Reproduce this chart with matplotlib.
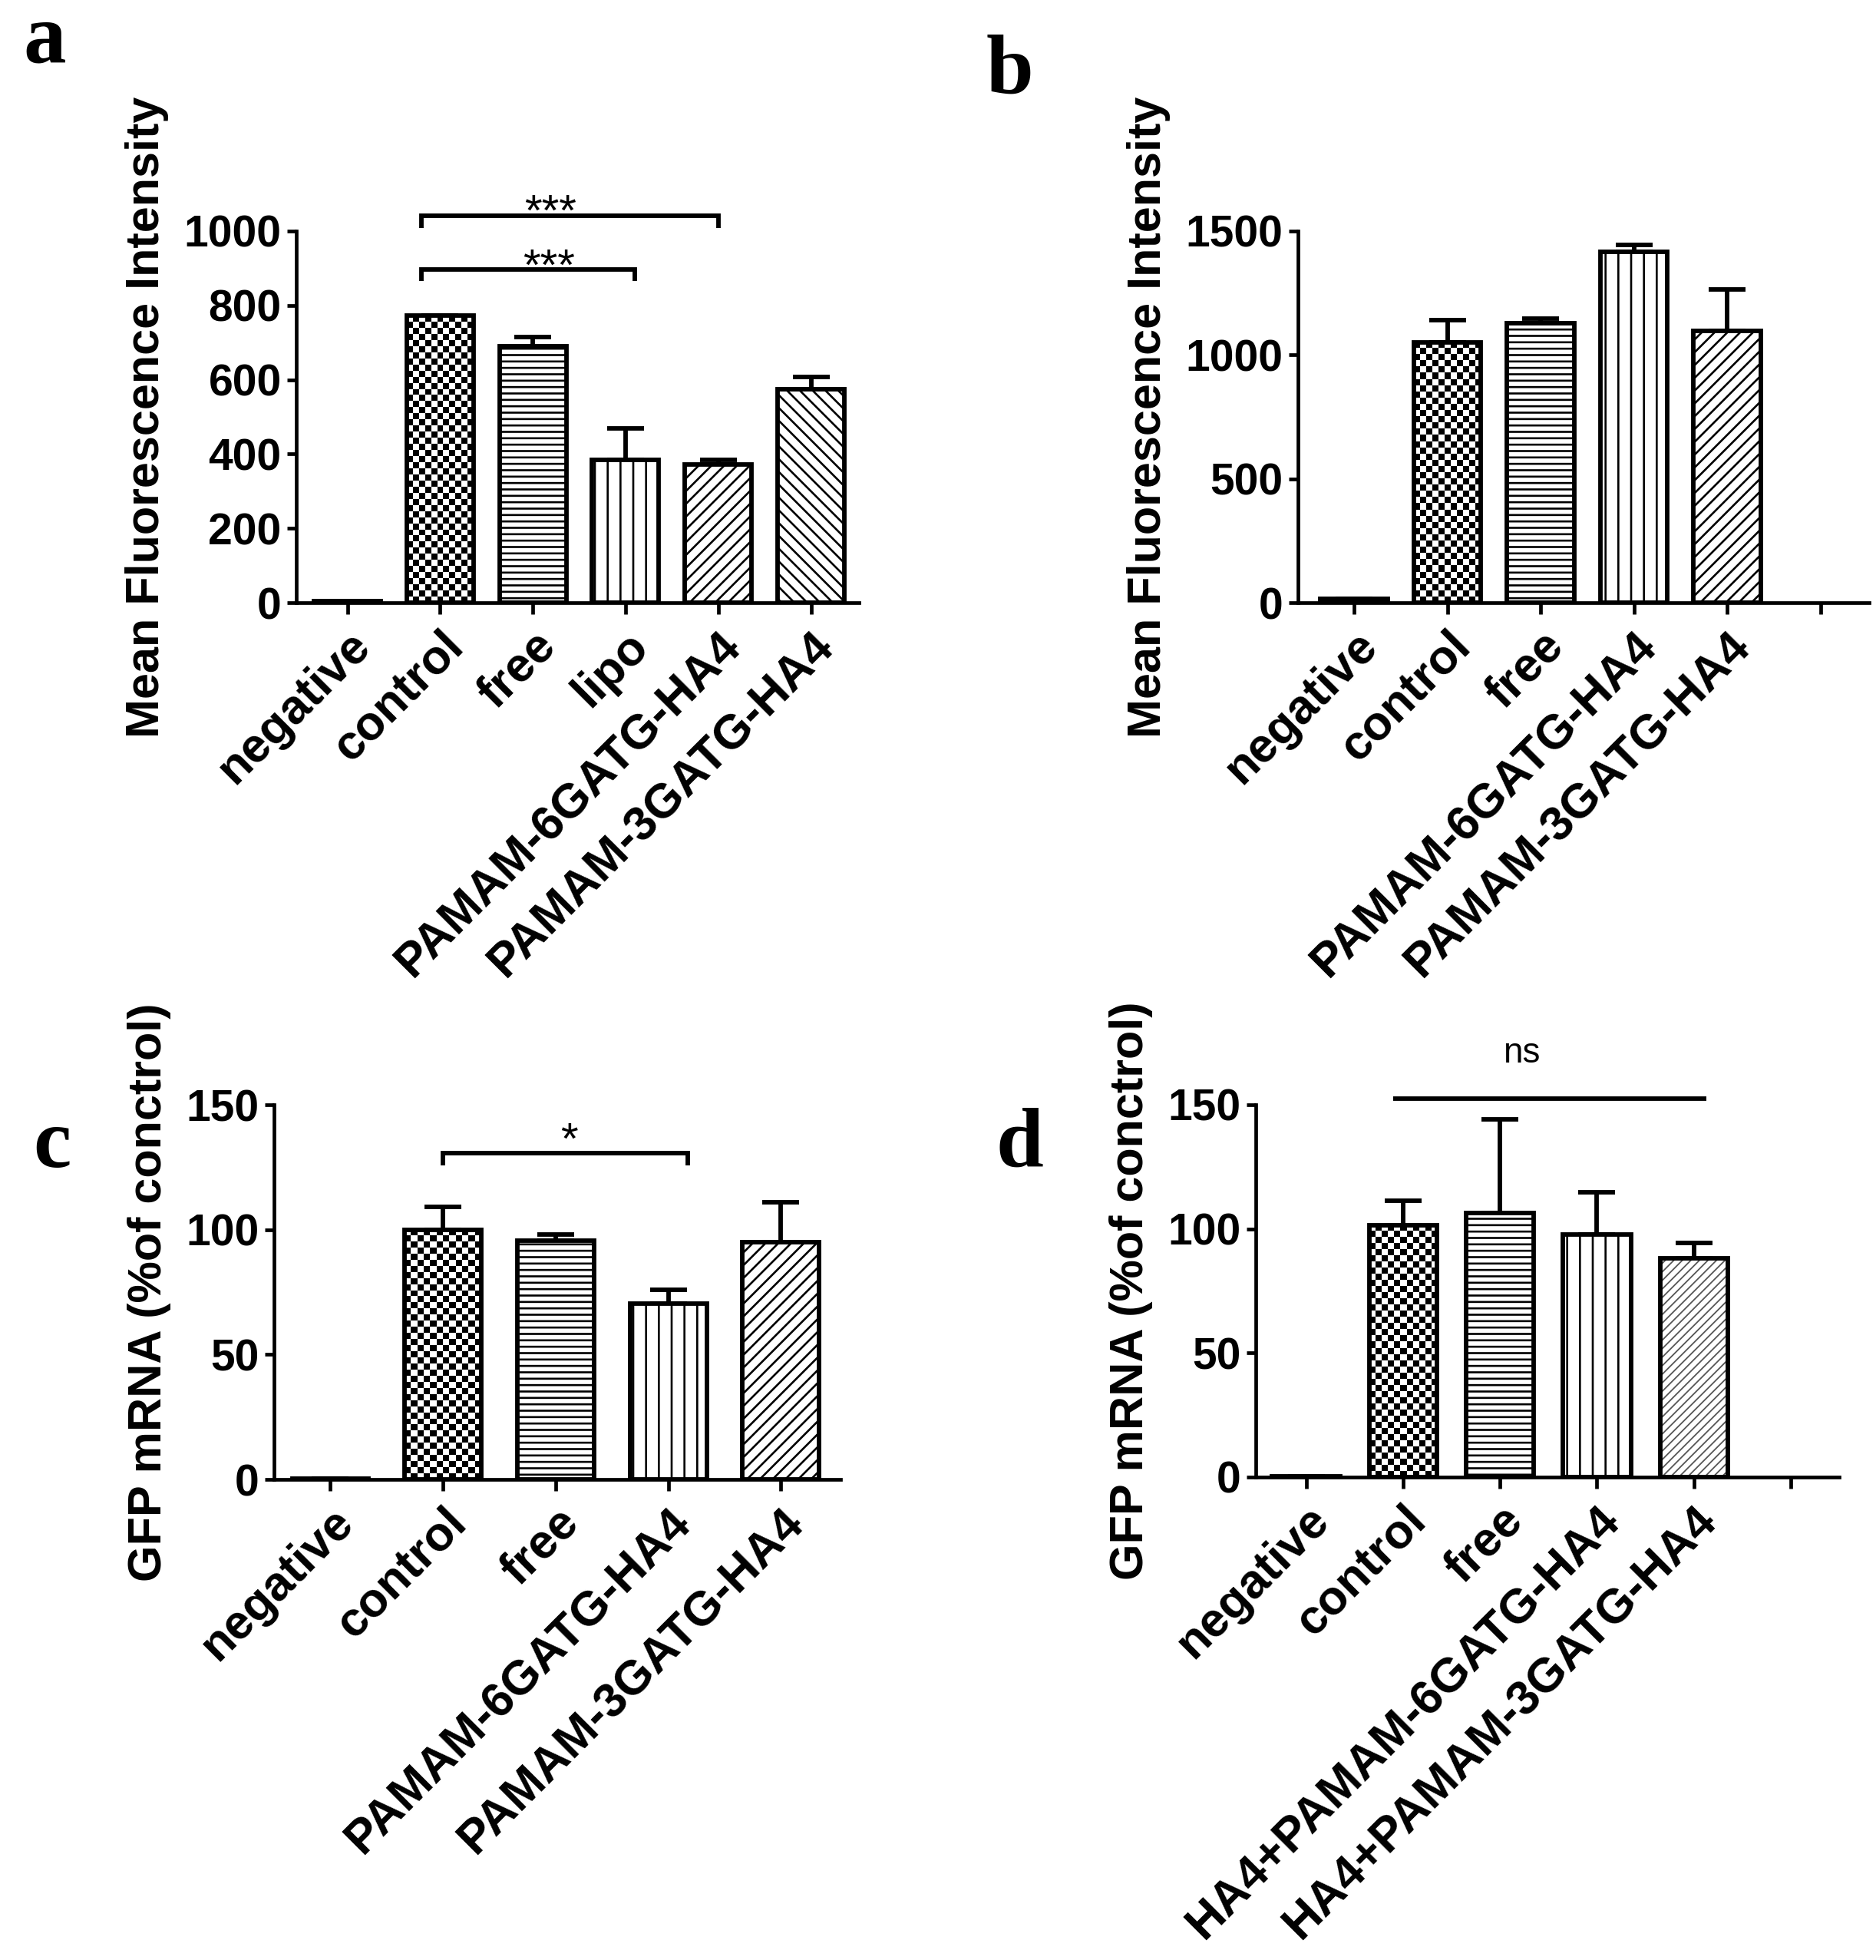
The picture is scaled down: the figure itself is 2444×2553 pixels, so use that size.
import matplotlib
matplotlib.use("Agg")
import matplotlib.pyplot as plt
import numpy as np

# --- Data ---
cats_a = ['negative', 'control', 'free', 'lipo', 'PAMAM-6GATG-HA4', 'PAMAM-3GATG-HA4']
mfi_a = [5, 772, 690, 385, 372, 575]
err_a = [0, 0, 24, 85, 12, 33]

cats_b = ['negative', 'control', 'free', 'PAMAM-6GATG-HA4', 'PAMAM-3GATG-HA4']
mfi_b = [15, 1051, 1127, 1417, 1097]
err_b = [0, 91, 20, 28, 169]

cats_c = ['negative', 'control', 'free', 'PAMAM-6GATG-HA4', 'PAMAM-3GATG-HA4']
gfp_c = [0.3, 100, 95.5, 70.5, 95]
err_c = [0, 9.3, 2.7, 5.3, 16]

cats_d = ['negative', 'control', 'free', 'HA4+PAMAM-6GATG-HA4', 'HA4+PAMAM-3GATG-HA4']
gfp_d = [0.3, 101.5, 106.5, 97.7, 88]
err_d = [0, 9.8, 37.5, 17, 6.2]

# --- Style ---
DPI = 100
W, H = 2444, 2553
plt.rcParams['font.family'] = ['Liberation Sans', 'DejaVu Sans']
plt.rcParams['hatch.linewidth'] = 1.9
YTICK_FS = 41
XTICK_FS = 45
LABEL_FS = 44
LW = 4.2

fig = plt.figure(figsize=(W / DPI, H / DPI), dpi=DPI)


def checker(ax, x, h, w, patch, cell=8):
    # checkerboard fill clipped to a bar
    bb = ax.get_position()
    x0, x1 = ax.get_xlim()
    y0, y1 = ax.get_ylim()
    ppx = bb.width * W / (x1 - x0)
    ppy = bb.height * H / (y1 - y0)
    nc = max(1, int(round(w * ppx / cell)))
    nr = max(1, int(round(h * ppy / cell)))
    arr = np.indices((nr, nc)).sum(axis=0) % 2
    im = ax.imshow(arr, extent=(x - w / 2, x + w / 2, 0, h), cmap='gray_r',
                   vmin=0, vmax=1, interpolation='nearest', aspect='auto',
                   origin='lower', zorder=2)
    im.set_clip_path(patch)


def panel(rect, cats, vals, errs, hatches, ylim, yticks, ylabel, ntick,
          width=0.72, xlim=None):
    ax = fig.add_axes(rect)
    x = np.arange(len(cats))
    ax.set_xlim(*xlim)
    ax.set_ylim(*ylim)
    ax.errorbar(x, vals, yerr=[np.zeros(len(errs)), errs], fmt='none',
                ecolor='k', elinewidth=LW, capsize=17, capthick=LW, zorder=1)
    for i, (v, h) in enumerate(zip(vals, hatches)):
        if h == 'checker':
            p = ax.bar(x[i], v, width, color='white', linewidth=0, zorder=2)[0]
            checker(ax, x[i], v, width, p)
        elif h is not None:
            hatch, hcol, hlw = h
            with plt.rc_context({'hatch.linewidth': hlw}):
                p = ax.bar(x[i], v, width, color='white', edgecolor=hcol,
                           hatch=hatch, linewidth=0, zorder=2)[0]
            if hasattr(p, 'set_hatch_linewidth'):
                p.set_hatch_linewidth(hlw)
        ax.bar(x[i], v, width, fill=False, edgecolor='k', linewidth=LW, zorder=3)
    ax.set_xlim(*xlim)
    ax.set_ylim(*ylim)
    ticks = np.arange(ntick)
    labels = list(cats) + [''] * (ntick - len(cats))
    ax.set_xticks(ticks)
    ax.set_xticklabels(labels, rotation=45, ha='right', rotation_mode='anchor',
                       fontsize=XTICK_FS, fontweight='bold')
    ax.set_yticks(yticks)
    ax.set_yticklabels([str(t) for t in yticks], fontsize=YTICK_FS, fontweight='bold')
    ax.set_ylabel(ylabel, fontsize=LABEL_FS, fontweight='bold', labelpad=14)
    for s in ['top', 'right']:
        ax.spines[s].set_visible(False)
    for s in ['left', 'bottom']:
        ax.spines[s].set_linewidth(3.4)
    ax.tick_params(axis='x', length=11, width=3.4, pad=8)
    ax.tick_params(axis='y', length=9, width=3.4, pad=5)
    return ax


def bracket(ax, x0, x1, y, drop, txt, tx, ty, fs=42):
    ax.plot([x0, x0, x1, x1], [y - drop, y, y, y - drop], color='k', lw=LW,
            clip_on=False, solid_capstyle='butt', solid_joinstyle='miter')
    ax.text(tx, ty, txt, ha='center', va='baseline', fontsize=fs, clip_on=False)


hatch_std = [None, 'checker', ('--', 'k', 1.9), ('|', 'k', 1.9)]

# a
ax_a = panel([0.1580, 0.6925, 0.3000, 0.1896], cats_a, mfi_a, err_a,
             hatch_std + [('//', 'k', 1.9), ('\\\\', 'k', 1.9)],
             (0, 1000), [0, 200, 400, 600, 800, 1000],
             'Mean Fluorescence Intensity', 6, xlim=(-0.55, 5.52))
bracket(ax_a, 0.8, 3.1, 897, 32, '***', 2.17, 868)
bracket(ax_a, 0.8, 4.0, 1041, 33, '***', 2.19, 1015)

# b
ax_b = panel([0.6919, 0.6925, 0.3044, 0.1896], cats_b, mfi_b, err_b,
             hatch_std + [('//', 'k', 1.9)],
             (0, 1500), [0, 500, 1000, 1500],
             'Mean Fluorescence Intensity', 6, xlim=(-0.6, 5.52))

# c
ax_c = panel([0.1461, 0.2452, 0.3020, 0.1911], cats_c, gfp_c, err_c,
             hatch_std + [('//', 'k', 1.9)],
             (0, 150), [0, 50, 100, 150],
             'GFP mRNA (%of conctrol)', 5, width=0.68, xlim=(-0.5, 4.53))
bracket(ax_c, 1.0, 3.17, 130.6, 5, '*', 2.12, 130.5)

# d
ax_d = panel([0.6694, 0.2464, 0.3110, 0.1900], cats_d, gfp_d, err_d,
             hatch_std + [('///', '#555555', 1.3)],
             (0, 150), [0, 50, 100, 150],
             'GFP mRNA (%of conctrol)', 6, width=0.7, xlim=(-0.52, 5.5))
ax_d.plot([0.9, 4.13], [152.5, 152.5], color='k', lw=LW, clip_on=False,
          solid_capstyle='butt')
ax_d.text(2.22, 167, 'ns', ha='center', va='baseline', fontsize=33, clip_on=False)

# panel letters
for lbl, px, py in [('a', 30, 80), ('b', 1285, 122), ('c', 43, 1520), ('d', 1297, 1520)]:
    fig.text(px / W, 1 - py / H, lbl, fontsize=80, fontweight='bold',
             family=['Liberation Serif', 'DejaVu Serif'], ha='left', va='baseline')

fig.savefig('out.png', dpi=DPI, facecolor='white')
